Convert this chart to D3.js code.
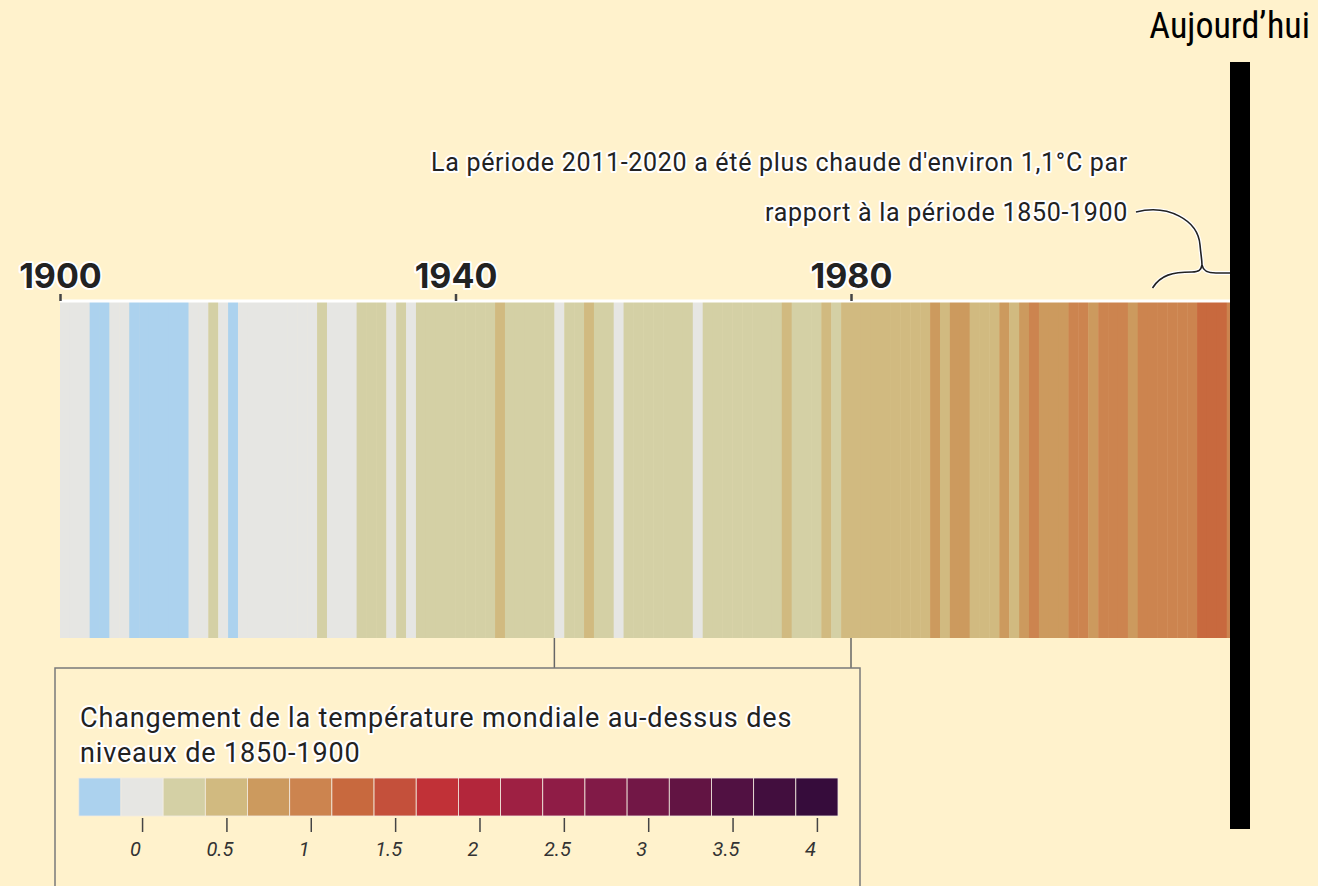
<!DOCTYPE html>
<meta charset="utf-8">
<style>
  body { margin: 0; background: #fff2cc; }
  svg { display: block; }
  .halo { paint-order: stroke; stroke: #fff; stroke-width: 4px; stroke-linejoin: round; }
</style>
<body>
<script src="https://d3js.org/d3.v7.min.js"></script>
<script>

// yearly change in global temperature above 1850-1900 (°C), read from the stripes
var firstYear = 1900;
var anomalies = [
  0.02, -0.02, -0.08, -0.2, -0.28, -0.1, -0.05, -0.25, -0.3, -0.35,   // 1900s
  -0.32, -0.33, -0.2, -0.1, 0.05, 0.15, -0.05, -0.2, -0.05, 0.0,      // 1910s
  0.02, 0.08, 0.0, 0.02, 0.0, 0.08, 0.18, 0.1, 0.08, -0.05,           // 1920s
  0.18, 0.22, 0.2, 0.05, 0.16, 0.1, 0.18, 0.3, 0.32, 0.3,             // 1930s
  0.35, 0.36, 0.33, 0.34, 0.42, 0.33, 0.2, 0.22, 0.2, 0.16,           // 1940s
  0.08, 0.22, 0.28, 0.38, 0.18, 0.15, 0.05, 0.26, 0.33, 0.3,          // 1950s
  0.26, 0.32, 0.3, 0.32, 0.08, 0.15, 0.22, 0.24, 0.2, 0.32,           // 1960s
  0.28, 0.2, 0.3, 0.42, 0.2, 0.24, 0.17, 0.45, 0.35, 0.48,            // 1970s
  0.55, 0.6, 0.48, 0.61, 0.45, 0.42, 0.5, 0.62, 0.66, 0.58,           // 1980s
  0.75, 0.72, 0.48, 0.52, 0.6, 0.74, 0.6, 0.78, 0.96, 0.72,           // 1990s
  0.7, 0.86, 0.92, 0.94, 0.85, 0.98, 0.94, 0.95, 0.82, 0.97,          // 2000s
  1.05, 0.9, 0.94, 0.98, 1.02, 1.18, 1.3, 1.2, 1.1                    // 2010s
];

// colour classes of the legend, 0.25 °C wide, centred on -0.25, 0, 0.25 ... 4
var classCentres = d3.range(-0.25, 4.01, 0.25);
var classColors = [
  "#acd2ee", "#e6e6e3", "#d4d0a5", "#d1ba80", "#cc9a5e", "#cc844f",
  "#c8693e", "#c4503b", "#c13137", "#b3263b", "#9e2043", "#8f1c46",
  "#811a47", "#721746", "#621443", "#511142", "#420e3e", "#360c3b"
];
var legendTicks = [0, 0.5, 1, 1.5, 2, 2.5, 3, 3.5, 4];
var axisYears = [1900, 1940, 1980];

var data = anomalies.map(function(v, i) { return {year: firstYear + i, value: v}; });

var W = 1318, H = 886;
var stripeTop = 302, stripeBottom = 638;
var todayX = 1240;

var svg = d3.select("body").append("svg")
    .attr("width", W)
    .attr("height", H);

svg.append("rect").attr("width", W).attr("height", H).attr("fill", "#fff2cc");

// years -> pixels
var x = d3.scaleLinear().domain([1900, 1980]).range([60, 851]);

var color = d3.scaleThreshold()
    .domain(classCentres.slice(1).map(function(c) { return c - 0.125; }))
    .range(classColors);

// the stripes
svg.append("g").selectAll("rect")
    .data(data)
  .enter().append("rect")
    .attr("x", function(d) { return x(d.year); })
    .attr("width", function(d) { return x(d.year + 1) - x(d.year) + 0.4; })
    .attr("y", stripeTop)
    .attr("height", stripeBottom - stripeTop)
    .attr("fill", function(d) { return color(d.value); });

// year axis on top of the stripes
var xAxis = svg.append("g")
    .attr("transform", "translate(0," + (stripeTop - 1) + ")")
    .call(d3.axisTop(x).tickValues(axisYears).tickFormat(d3.format("d")).tickSize(7).tickPadding(6));
xAxis.select(".domain")
    .attr("d", "M" + x(1900) + ",0H" + x(2019))
    .attr("stroke", "#fff")
    .attr("stroke-width", 3);
xAxis.selectAll(".tick line").attr("stroke", "#444").attr("stroke-width", 2.5);
xAxis.selectAll(".tick text")
    .attr("class", "halo")
    .attr("fill", "#222")
    .style("font-family", "Inter, sans-serif")
    .style("font-weight", 700)
    .style("font-size", "34px");

// leader lines from the stripes to the legend box
var legendTop = 668;
svg.append("g").selectAll("line")
    .data([1950, 1980])
  .enter().append("line")
    .attr("x1", function(d) { return x(d); })
    .attr("x2", function(d) { return x(d); })
    .attr("y1", stripeBottom)
    .attr("y2", legendTop)
    .attr("stroke", "#666")
    .attr("stroke-width", 1.5);

// legend
var legend = svg.append("g");
legend.append("rect")
    .attr("x", 55).attr("y", legendTop)
    .attr("width", 805).attr("height", 260)
    .attr("fill", "#fff2cc")
    .attr("stroke", "#7a7a7a")
    .attr("stroke-width", 1.5);

legend.append("text")
    .attr("class", "halo")
    .attr("x", 80)
    .style("font-family", "Roboto, sans-serif")
    .style("font-size", "27px")
    .style("letter-spacing", "0.85px")
    .attr("fill", "#222")
    .selectAll("tspan")
    .data(["Changement de la température mondiale au-dessus des", "niveaux de 1850-1900"])
  .enter().append("tspan")
    .attr("x", 80)
    .attr("y", function(d, i) { return 727 + i * 35; })
    .text(function(d) { return d; });

var lx = d3.scaleLinear().domain([-0.375, 4.125]).range([78.8, 838]);
var barTop = 778, barH = 38;

legend.append("g").selectAll("rect")
    .data(classCentres)
  .enter().append("rect")
    .attr("x", function(d) { return lx(d - 0.125); })
    .attr("width", function(d) { return lx(d + 0.125) - lx(d - 0.125); })
    .attr("y", barTop)
    .attr("height", barH)
    .attr("fill", function(d, i) { return classColors[i]; })
    .attr("stroke", "#f3ece0")
    .attr("stroke-width", 0.8);

var lAxis = legend.append("g")
    .attr("transform", "translate(0," + (barTop + barH + 2) + ")")
    .call(d3.axisBottom(lx).tickValues(legendTicks).tickFormat(d3.format("")).tickSize(14).tickPadding(10));
lAxis.select(".domain").remove();
lAxis.selectAll(".tick line").attr("stroke", "#444").attr("stroke-width", 1.5);
lAxis.selectAll(".tick text")
    .attr("dx", -7)
    .attr("fill", "#333")
    .style("font-family", "Roboto, sans-serif")
    .style("font-style", "italic")
    .style("font-size", "20px");

// annotation for 2011-2020
var note = svg.append("text")
    .attr("class", "halo")
    .attr("text-anchor", "end")
    .attr("fill", "#222")
    .style("font-family", "Roboto, sans-serif")
    .style("font-size", "25px")
    .style("letter-spacing", "0.7px");
note.selectAll("tspan")
    .data(["La période 2011-2020 a été plus chaude d'environ 1,1°C par", "rapport à la période 1850-1900"])
  .enter().append("tspan")
    .attr("x", 1128)
    .attr("y", function(d, i) { return 171 + i * 50; })
    .text(function(d) { return d; });

// brace over the last decade, with its leader up to the note
var b0 = x(2011) - 5, b1 = todayX - 8, bm = (b0 + x(2020) + 5) / 2, by = 272;
var brace = "M" + b0 + "," + (by + 16) +
    "C" + (b0 + 8) + "," + (by + 3) + " " + (b0 + 20) + "," + by + " " + (bm - 10) + "," + by +
    "C" + (bm - 3) + "," + by + " " + (bm - 1) + "," + (by - 2) + " " + bm + "," + (by - 7) +
    "C" + (bm + 1) + "," + (by - 2) + " " + (bm + 4) + "," + (by + 1) + " " + (bm + 14) + "," + (by + 1) +
    "L" + b1 + "," + (by + 1);
var leader = "M1136,212C1168,204 " + (bm - 4) + ",220 " + (bm - 2) + ",245" +
    "C" + (bm - 1) + ",256 " + bm + ",260 " + bm + "," + (by - 7);
[brace, leader].forEach(function(p) {
  svg.append("path").attr("d", p).attr("fill", "none").attr("stroke", "#fff").attr("stroke-width", 4);
  svg.append("path").attr("d", p).attr("fill", "none").attr("stroke", "#222").attr("stroke-width", 1.6);
});

// "today" marker
svg.append("rect")
    .attr("x", todayX - 10).attr("y", 62)
    .attr("width", 20).attr("height", 767)
    .attr("fill", "#000");
svg.append("text")
    .attr("x", 1310).attr("y", 38)
    .attr("text-anchor", "end")
    .attr("fill", "#000")
    .style("font-family", "'Liberation Sans Narrow', 'Roboto Condensed', 'Liberation Sans', sans-serif")
    .style("font-size", "36px")
    .text("Aujourd’hui");

</script>
</body>
